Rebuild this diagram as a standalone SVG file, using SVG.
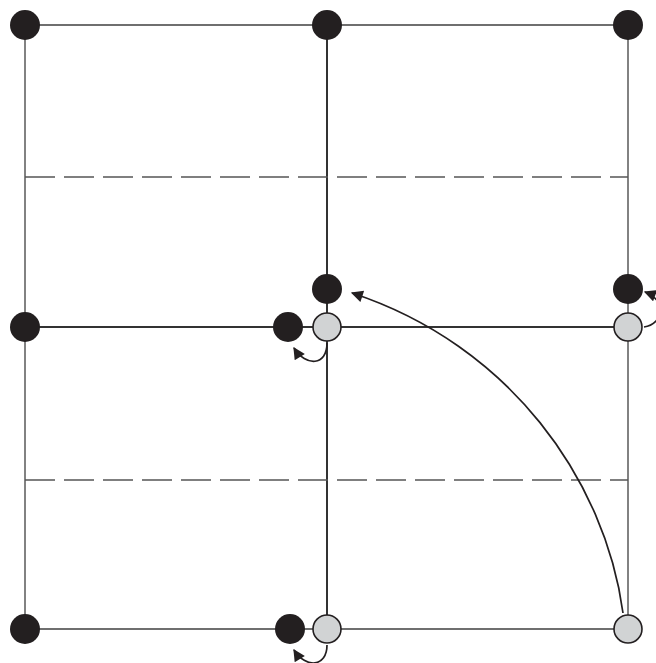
<svg xmlns="http://www.w3.org/2000/svg" width="656" height="663" viewBox="0 0 656 663">
<style>
.grid{stroke:#3f3f3f;stroke-width:1.3;fill:none}
.mid{stroke:#333;stroke-width:2;fill:none}
.dash{stroke:#555;stroke-width:1.5;stroke-dasharray:30 9;fill:none}
.blk{fill:#231f20}
.gry{fill:#d1d3d4;stroke:#231f20;stroke-width:1.6}
.arr{stroke:#231f20;stroke-width:1.7;fill:none;marker-end:url(#ah)}
</style>
<defs>
<marker id="ah" viewBox="0 0 10 10" refX="9" refY="5" markerWidth="14" markerHeight="12" markerUnits="userSpaceOnUse" orient="auto">
<path d="M0,0 L10,5 L0,10 Z" fill="#231f20"/>
</marker>
</defs>
<g id="grid">
<line class="grid" x1="25" y1="25" x2="628" y2="25"/>
<line class="grid" x1="25" y1="629" x2="628" y2="629"/>
<line class="grid" x1="25" y1="25" x2="25" y2="629"/>
<line class="grid" x1="628" y1="25" x2="628" y2="629"/>
<line class="mid" x1="327" y1="25" x2="327" y2="629"/>
<line class="mid" x1="25" y1="327" x2="628" y2="327"/>
<line class="dash" x1="25" y1="177" x2="628" y2="177"/>
<line class="dash" x1="25" y1="480" x2="628" y2="480"/>
</g>
<g id="connectors">
<path class="arr" d="M623,613 C605,480 510,345 352,293"/>
<path class="arr" d="M327,343 C327,366 306,367 294,348"/>
<path class="arr" d="M644,327 C664,324 667,300 645,292"/>
<path class="arr" d="M327,645 C327,667 306,669 294,650"/>
</g>
<g id="n1"><circle class="blk" cx="25" cy="25" r="15"/></g>
<g id="n2"><circle class="blk" cx="327" cy="25" r="15"/></g>
<g id="n3"><circle class="blk" cx="628" cy="25" r="15"/></g>
<g id="n4"><circle class="blk" cx="25" cy="327" r="15"/></g>
<g id="n5"><circle class="blk" cx="288" cy="327" r="15"/></g>
<g id="n6"><circle class="blk" cx="327" cy="289" r="15"/></g>
<g id="n7"><circle class="gry" cx="327" cy="327" r="14"/></g>
<g id="n8"><circle class="blk" cx="628" cy="289" r="15"/></g>
<g id="n9"><circle class="gry" cx="628" cy="327" r="14"/></g>
<g id="n10"><circle class="blk" cx="25" cy="629" r="15"/></g>
<g id="n11"><circle class="blk" cx="290" cy="629" r="15"/></g>
<g id="n12"><circle class="gry" cx="327" cy="629" r="14"/></g>
<g id="n13"><circle class="gry" cx="628" cy="629" r="14"/></g>
</svg>
